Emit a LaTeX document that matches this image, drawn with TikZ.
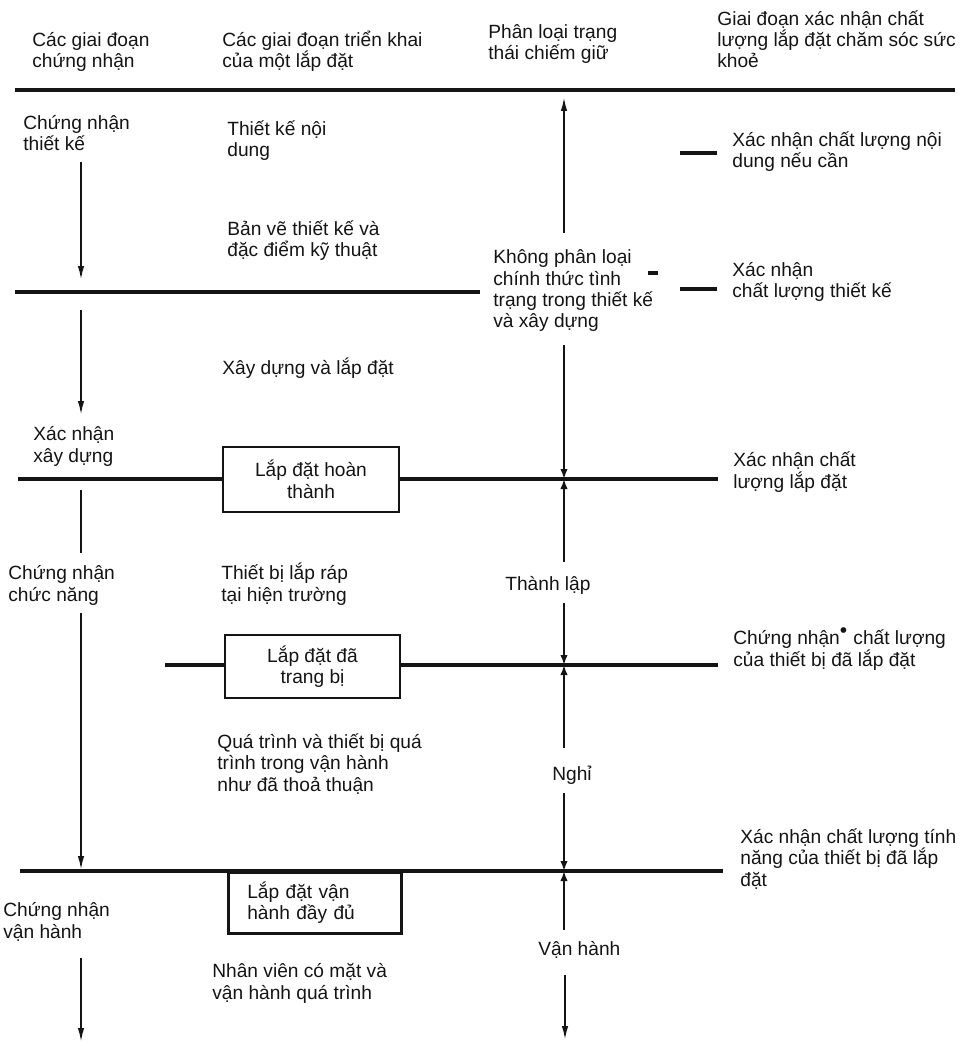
\documentclass[tikz,border=0pt]{standalone}
\usepackage{fontspec}
\setmainfont{Liberation Sans}
\usetikzlibrary{arrows.meta}
\definecolor{ScanInk}{HTML}{141414}

\begin{document}
\begin{tikzpicture}[x=0.02cm,y=-0.02cm,
  txt/.style={anchor=base west,align=left,inner sep=0pt,font=\fontsize{10.9}{12.2}\selectfont,text=ScanInk},
  stagebox/.style={draw=ScanInk,line width=1.5pt,inner sep=0pt,align=center,font=\fontsize{10.9}{12.2}\selectfont,text=ScanInk},
  rule/.style={ScanInk,line width=1.8pt},
  toprule/.style={ScanInk,line width=2.3pt},
  flow/.style={ScanInk,line width=1.1pt,-{Latex[length=2.8mm,width=1.3mm]}},
  meet/.style={ScanInk,line width=1.1pt,-{Latex[length=2mm,width=1.5mm]}}]
  \useasboundingbox (0,0) rectangle (965,1043);
  % column headings (base = last line)
  \node[txt] (hcert) at (32,68) {Các giai đoạn\\chứng nhận};
  \node[txt] (hinst) at (222,68) {Các giai đoạn triển khai\\của một lắp đặt};
  \node[txt] (hclass) at (488,60) {Phân loại trạng\\thái chiếm giữ};
  \node[txt] (hqual) at (717,68) {Giai đoạn xác nhận chất\\lượng lắp đặt chăm sóc sức\\khoẻ};
  \coordinate (r1w) at (15,90);
  \coordinate (r1e) at (955,90);
  \draw[toprule] (r1w) -- (r1e);
  % design stage
  \node[txt] (certdesign) at (23,151) {Chứng nhận\\thiết kế};
  \node[txt] (contdesign) at (227,157) {Thiết kế nội\\dung};
  \node[txt] (drawings) at (227,257) {Bản vẽ thiết kế và\\đặc điểm kỹ thuật};
  \node[txt] (qcont) at (732,168) {Xác nhận chất lượng nội\\dung nếu cần};
  \node[txt] (noclass) at (493,328) {Không phân loại\\chính thức tình\\trạng trong thiết kế\\và xây dựng};
  \node[txt] (qdesign) at (732,298) {Xác nhận\\chất lượng thiết kế};
  \coordinate (r2w) at (15,292);
  \coordinate (r2e) at (480,292);
  \draw[rule] (r2w) -- (r2e);
  \foreach \y in {153,289}{
    \coordinate (tw\y) at (680,\y);
    \coordinate (te\y) at (717,\y);
    \draw[rule] (tw\y) -- (te\y);
  }
  \coordinate (nick) at (648,273);
  \draw[ScanInk,line width=2.4pt] (nick) -- ++(10,0);
  % construction stage
  \node[txt] (build) at (222,375) {Xây dựng và lắp đặt};
  \node[txt] (certbuild) at (33,462) {Xác nhận\\xây dựng};
  \node[stagebox,minimum width=3.52cm,minimum height=1.3cm] (done) at (311,479.5) {Lắp đặt hoàn\\thành};
  \node[txt] (qinstall) at (733,488) {Xác nhận chất\\lượng lắp đặt};
  \coordinate (r3w) at (18,479);
  \coordinate (r3e) at (718,479);
  \draw[rule] (r3w) -- (done.west |- r3w);
  \draw[rule] (done.east |- r3e) -- (r3e);
  % function stage
  \node[txt] (certfunc) at (8,601) {Chứng nhận\\chức năng};
  \node[txt] (fieldeq) at (221,601) {Thiết bị lắp ráp\\tại hiện trường};
  \node[txt] (estab) at (505,590) {Thành lập};
  \node[stagebox,minimum width=3.5cm,minimum height=1.26cm] (fitted) at (312.5,666.5) {Lắp đặt đã\\trang bị};
  \node[txt] (certeq) at (733,666) {Chứng nhận\textsuperscript{\large•} chất lượng\\của thiết bị đã lắp đặt};
  \coordinate (r4w) at (165,665);
  \coordinate (r4e) at (718,665);
  \draw[rule] (r4w) -- (fitted.west |- r4w);
  \draw[rule] (fitted.east |- r4e) -- (r4e);
  \node[txt] (process) at (217,791) {Quá trình và thiết bị quá\\trình trong vận hành\\như đã thoả thuận};
  \node[txt] (idle) at (552,780) {Nghỉ};
  \node[txt] (qperf) at (740,886) {Xác nhận chất lượng tính\\năng của thiết bị đã lắp\\đặt};
  % operation stage
  \coordinate (r5w) at (20,871);
  \coordinate (r5e) at (723,871);
  \draw[rule] (r5w) -- (r5e);
  \node[stagebox,anchor=north west,minimum width=3.46cm,minimum height=1.22cm,
    text width=2.7cm,inner xsep=0.38cm,align=left] (full) at (227,871) {Lắp đặt vận\\hành đầy đủ};
  \node[txt] (certop) at (3,938) {Chứng nhận\\vận hành};
  \node[txt] (running) at (538,955) {Vận hành};
  \node[txt] (staff) at (212,999) {Nhân viên có mặt và\\vận hành quá trình};
  % certification column
  \foreach \ya/\yb in {162/280,310/415,613/870,958/1042}{
    \coordinate (ca\ya) at (81,\ya);
    \coordinate (cb\ya) at (81,\yb);
    \draw[flow] (ca\ya) -- (cb\ya);
  }
  \coordinate (cc) at (81,490);
  \coordinate (cd) at (81,553);
  \draw[ScanInk,line width=1.1pt] (cc) -- (cd);
  % occupancy column
  \coordinate (up) at (564,233);
  \coordinate (uptip) at (564,97);
  \draw[flow] (up) -- (uptip);
  \foreach \ya/\ym/\yb in {345/479/562,603/665/748,793/871/930}{
    \coordinate (oa\ya) at (564,\ya);
    \coordinate (om\ya) at (564,\ym);
    \coordinate (ob\ya) at (564,\yb);
    \draw[meet] (oa\ya) -- (om\ya);
    \draw[meet] (ob\ya) -- (om\ya);
  }
  \coordinate (oe) at (565,975);
  \coordinate (of) at (565,1040);
  \draw[flow] (oe) -- (of);
\end{tikzpicture}
\end{document}
